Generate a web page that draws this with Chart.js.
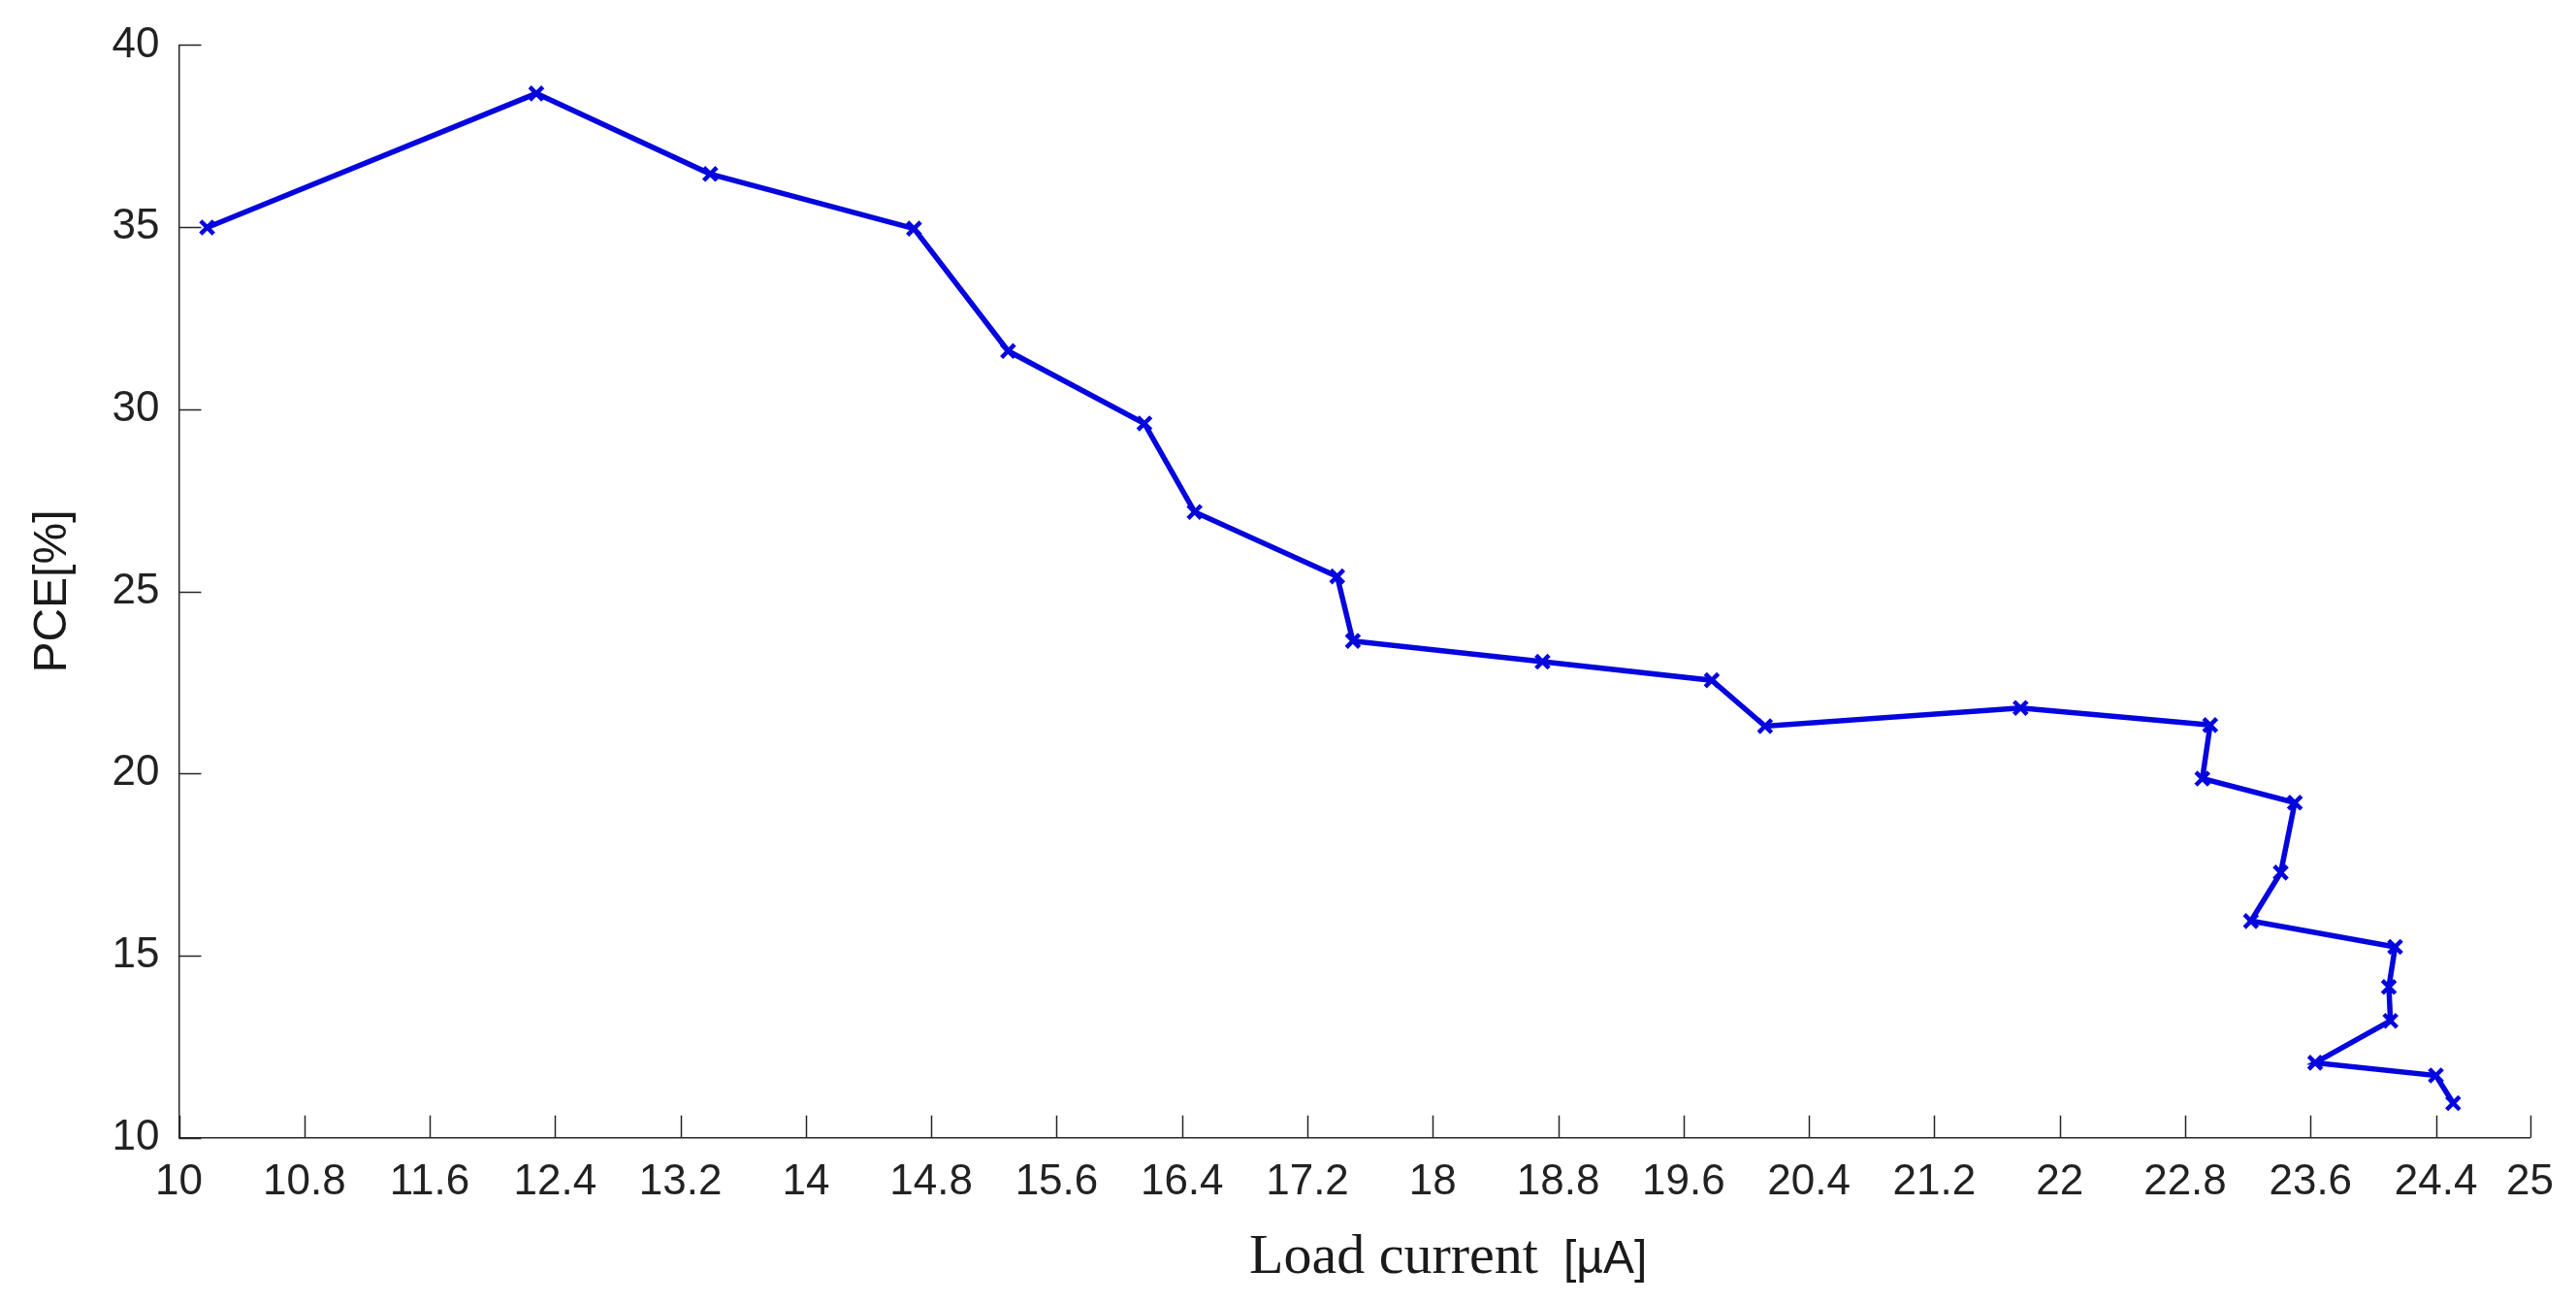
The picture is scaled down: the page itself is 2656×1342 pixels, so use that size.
<!DOCTYPE html>
<html>
<head>
<meta charset="utf-8">
<script src="https://cdn.jsdelivr.net/npm/chart.js@4.4.1/dist/chart.umd.min.js"></script>
<style>
  html, body { margin: 0; padding: 0; background: #ffffff; }
  #wrap { width: 2656px; height: 1342px; }
</style>
</head>
<body>
<div id="wrap"><canvas id="c" width="2656" height="1342"></canvas></div>
<script>
// ---- data ----
const loadCurrent = [10.18, 12.28, 13.39, 14.69, 15.29, 16.16, 16.48, 17.39, 17.49, 18.70, 19.78, 20.12,
                     21.75, 22.96, 22.91, 23.50, 23.41, 23.22, 24.14, 24.10, 24.11, 23.63, 24.40, 24.51];
const pce = [34.99, 38.67, 36.46, 34.96, 31.60, 29.61, 27.18, 25.41, 23.64, 23.07, 22.56, 21.30,
             21.80, 21.33, 19.86, 19.20, 17.28, 15.95, 15.24, 14.14, 13.21, 12.06, 11.71, 10.95];
const xTickValues = [10, 10.8, 11.6, 12.4, 13.2, 14, 14.8, 15.6, 16.4, 17.2, 18, 18.8, 19.6, 20.4, 21.2, 22, 22.8, 23.6, 24.4, 25];
const xTickLabels = ['10', '10.8', '11.6', '12.4', '13.2', '14', '14.8', '15.6', '16.4', '17.2', '18', '18.8', '19.6', '20.4', '21.2', '22', '22.8', '23.6', '24.4', '25'];
const yTickValues = [10, 15, 20, 25, 30, 35, 40];
const yTickLabels = ['10', '15', '20', '25', '30', '35', '40'];
const xTitleMain = 'Load current';
const xTitleUnit = '[µA]';
const yTitle = 'PCE[%]';

const axisColor = '#262626';
const lineColor = 'rgb(5,5,222)';
const sansFamily = "'Liberation Sans', Arial, Helvetica, sans-serif";
const serifFamily = "'Liberation Serif', 'Times New Roman', serif";

const points = loadCurrent.map((v, i) => ({ x: v, y: pce[i] }));

const inwardTicks = {
  id: 'inwardTicks',
  beforeDatasetsDraw(chart) {
    const { ctx, chartArea: a, scales: { x, y } } = chart;
    ctx.save();
    ctx.strokeStyle = axisColor;
    ctx.lineWidth = 1.5;
    ctx.beginPath();
    x.ticks.forEach(t => {
      const px = Math.round(x.getPixelForValue(t.value)) + 0.5;
      ctx.moveTo(px, a.bottom);
      ctx.lineTo(px, a.bottom - 23);
    });
    y.ticks.forEach(t => {
      const py = Math.round(y.getPixelForValue(t.value)) + 0.5;
      ctx.moveTo(a.left, py);
      ctx.lineTo(a.left + 23, py);
    });
    ctx.stroke();
    ctx.restore();
  }
};

const axisTitles = {
  id: 'axisTitles',
  afterDraw(chart) {
    const { ctx, chartArea: a } = chart;
    ctx.save();
    ctx.fillStyle = '#1a1a1a';
    // x title: serif text + sans unit
    ctx.textBaseline = 'alphabetic';
    ctx.textAlign = 'left';
    ctx.font = '58px ' + serifFamily;
    const x0 = 1288;
    const base = 1312;
    ctx.fillText(xTitleMain, x0, base);
    const w = ctx.measureText(xTitleMain).width;
    ctx.font = '48px ' + sansFamily;
    ctx.fillText(xTitleUnit, x0 + w + 26, base);
    // y title rotated
    ctx.font = '48px ' + sansFamily;
    ctx.translate(68, (a.top + a.bottom) / 2);
    ctx.rotate(-Math.PI / 2);
    ctx.textAlign = 'center';
    ctx.fillText(yTitle, 0, 0);
    ctx.restore();
  }
};

new Chart(document.getElementById('c'), {
  type: 'scatter',
  data: {
    datasets: [{
      data: points,
      showLine: true,
      borderColor: lineColor,
      backgroundColor: lineColor,
      borderWidth: 5.5,
      pointStyle: 'crossRot',
      pointRadius: 9.5,
      pointBorderWidth: 4.5,
      pointBorderColor: lineColor,
      pointHoverRadius: 9.5,
      tension: 0,
      clip: false
    }]
  },
  options: {
    responsive: false,
    animation: false,
    devicePixelRatio: 1,
    layout: { padding: { left: 0, top: 41.5, right: 47.5, bottom: 0 } },
    plugins: { legend: { display: false }, tooltip: { enabled: false } },
    scales: {
      x: {
        type: 'linear',
        min: 10,
        max: 25,
        afterBuildTicks: s => { s.ticks = xTickValues.map(v => ({ value: v })); },
        afterFit: s => { s.height = 169.3; },
        grid: { display: true, drawOnChartArea: false, drawTicks: false },
        border: { display: true, color: axisColor, width: 1.5 },
        ticks: {
          autoSkip: false,
          maxRotation: 0,
          padding: 20,
          color: '#222222',
          font: { family: sansFamily, size: 44 },
          callback: (v, i) => xTickLabels[i]
        },
        title: { display: false }
      },
      y: {
        type: 'linear',
        min: 10,
        max: 40,
        afterBuildTicks: s => { s.ticks = yTickValues.map(v => ({ value: v })); },
        afterFit: s => { s.width = 184.5; },
        grid: { display: true, drawOnChartArea: false, drawTicks: false },
        border: { display: true, color: axisColor, width: 1.5 },
        ticks: {
          padding: 20,
          color: '#222222',
          font: { family: sansFamily, size: 44 },
          callback: (v, i) => yTickLabels[i]
        },
        title: { display: false }
      }
    }
  },
  plugins: [inwardTicks, axisTitles]
});
</script>
</body>
</html>
